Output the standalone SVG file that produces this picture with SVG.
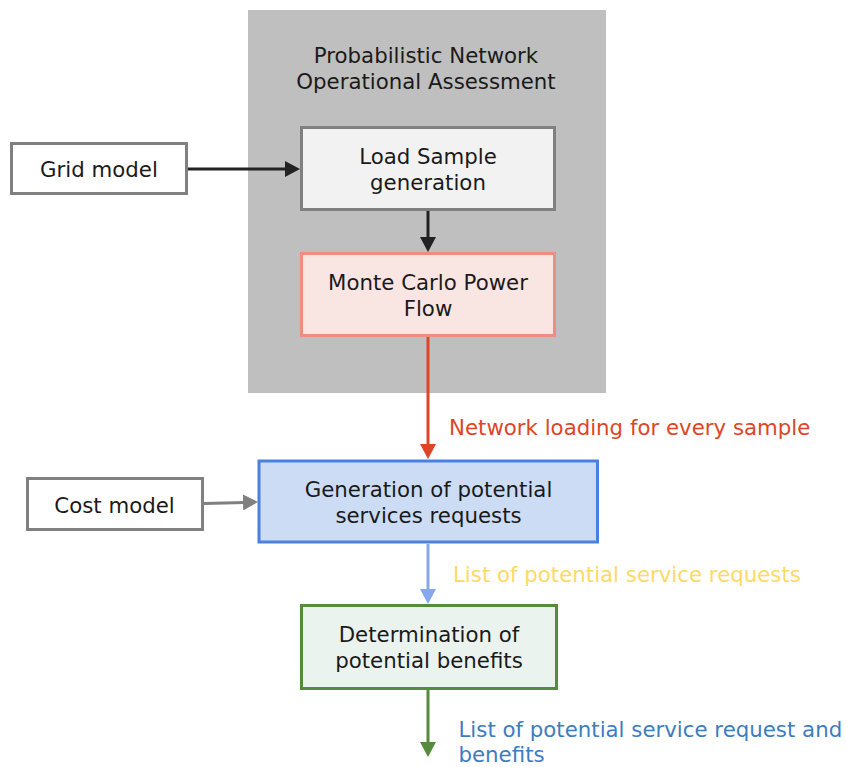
<svg xmlns="http://www.w3.org/2000/svg" width="846" height="767" viewBox="0 0 846 767">
<style>
  text { font-family: "DejaVu Sans", Verdana, sans-serif; font-size: 21.3px; text-anchor: middle; fill: #1a1a1a; }
  .lbl { text-anchor: start; }
  .box { stroke-width: 3; }
  .conn { fill: none; stroke-width: 3; }
</style>
<defs>
  <marker id="ahBlack" markerUnits="userSpaceOnUse" markerWidth="15" markerHeight="16" refX="2" refY="8" orient="auto"><path d="M0,0 L15,8 L0,16 Z" fill="#222222"/></marker>
  <marker id="ahGray" markerUnits="userSpaceOnUse" markerWidth="15" markerHeight="16" refX="2" refY="8" orient="auto"><path d="M0,0 L15,8 L0,16 Z" fill="#808080"/></marker>
  <marker id="ahRed" markerUnits="userSpaceOnUse" markerWidth="15" markerHeight="16" refX="2" refY="8" orient="auto"><path d="M0,0 L15,8 L0,16 Z" fill="#de4528"/></marker>
  <marker id="ahLBlue" markerUnits="userSpaceOnUse" markerWidth="15" markerHeight="16" refX="2" refY="8" orient="auto"><path d="M0,0 L15,8 L0,16 Z" fill="#85a9ec"/></marker>
  <marker id="ahGreen" markerUnits="userSpaceOnUse" markerWidth="15" markerHeight="16" refX="2" refY="8" orient="auto"><path d="M0,0 L15,8 L0,16 Z" fill="#548b3c"/></marker>
</defs>

<g id="group-pnoa">
  <rect x="248" y="10" width="358" height="383" fill="#bfbfbf"/>
  <text x="426" y="63">Probabilistic Network</text>
  <text x="426" y="89">Operational Assessment</text>
</g>

<g id="node-grid-model">
  <rect class="box" x="11.5" y="143.5" width="175" height="50" fill="#ffffff" stroke="#808080"/>
  <text x="99" y="177">Grid model</text>
</g>

<g id="node-load-sample">
  <rect class="box" x="301.5" y="127.5" width="253" height="82" fill="#f2f2f2" stroke="#808080"/>
  <text x="428" y="164">Load Sample</text>
  <text x="428" y="190">generation</text>
</g>

<g id="node-monte-carlo">
  <rect class="box" x="301.5" y="253.5" width="253" height="82" fill="#f9e5e2" stroke="#ec8f7e"/>
  <text x="428" y="290">Monte Carlo Power</text>
  <text x="428" y="316">Flow</text>
</g>

<g id="node-cost-model">
  <rect class="box" x="27.5" y="478.5" width="175" height="51" fill="#ffffff" stroke="#808080"/>
  <text x="114.5" y="513">Cost model</text>
</g>

<g id="node-generation">
  <rect class="box" x="259" y="461" width="338.5" height="81" fill="#ccdcf5" stroke="#4a80e2" stroke-width="3.5"/>
  <text x="428.5" y="497">Generation of potential</text>
  <text x="428.5" y="523">services requests</text>
</g>

<g id="node-determination">
  <rect class="box" x="301.5" y="605.5" width="255" height="83" fill="#ebf3ef" stroke="#548b3c" stroke-width="3.5"/>
  <text x="429" y="642">Determination of</text>
  <text x="429" y="668">potential benefits</text>
</g>

<g id="connectors">
  <path class="conn" d="M188,169 L287,169" stroke="#222222" marker-end="url(#ahBlack)"/>
  <path class="conn" d="M428,211 L428,239" stroke="#222222" marker-end="url(#ahBlack)"/>
  <path class="conn" d="M428,337 L428,446" stroke="#de4528" marker-end="url(#ahRed)"/>
  <path class="conn" d="M204,503.5 L245,502.4" stroke="#808080" marker-end="url(#ahGray)"/>
  <path class="conn" d="M428,544 L428,591" stroke="#85a9ec" marker-end="url(#ahLBlue)"/>
  <path class="conn" d="M428,690 L428,744" stroke="#548b3c" marker-end="url(#ahGreen)"/>
  <text class="lbl" x="449" y="435" style="fill:#de4528">Network loading for every sample</text>
  <text class="lbl" x="453" y="582" style="fill:#ffd966">List of potential service requests</text>
  <text class="lbl" x="458.5" y="737" style="fill:#3e7cc0">List of potential service request and</text>
  <text class="lbl" x="458.5" y="762" style="fill:#3e7cc0">benefits</text>
</g>
</svg>
